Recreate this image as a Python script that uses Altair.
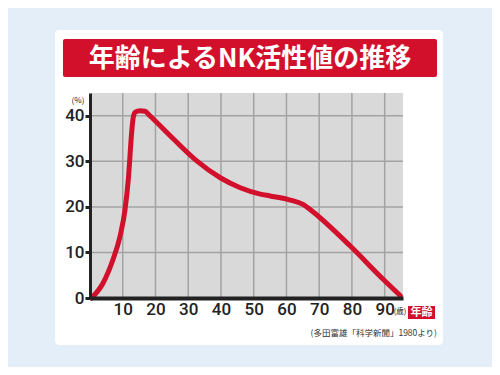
import altair as alt
import pandas as pd

# --- data ---
ages = [0.5, 4, 7, 9.2, 10.7, 11.7, 12.8, 13.2, 13.8, 15.3, 16.8, 18.3, 25.5,
        32.6, 39.8, 45.9, 52, 55, 61.2, 65.2, 67.8, 79.5, 89.7, 94.8]
nk_activity = [0, 3.3, 8.4, 13.6, 19.4, 26, 37, 39.6, 40.8, 41.1, 41, 40, 34.9,
               30.1, 26.4, 24.2, 22.8, 22.4, 21.5, 20.5, 19.1, 11.4, 4, 0.5]
x_ticks = [10, 20, 30, 40, 50, 60, 70, 80, 90]
y_ticks = [0, 10, 20, 30, 40]
title_text = "年齢によるNK活性値の推移"
source_text = "(多田富雄「科学新聞」1980より)"

W, H = 313, 205
RED = "#d3102c"
FONT = "Noto Sans CJK JP"

df = pd.DataFrame({"age": ages, "nk": nk_activity})
one = alt.Data(values=[{}])

xs = alt.Scale(domain=[0, 95.6], nice=False, zero=False)
ys = alt.Scale(domain=[0, 45], nice=False)

x_axis = alt.Axis(
    values=x_ticks, title=None, grid=False, ticks=False, labelPadding=3,
    labelOverlap=False, domainColor="#222", domainWidth=4,
    labelFont="Roboto", labelFontSize=17, labelFontWeight=500,
    labelColor="#222", zindex=1)
y_axis = alt.Axis(
    values=y_ticks, title=None, grid=False, ticks=True, tickSize=5,
    tickWidth=3, tickColor="#222", labelPadding=1, labelOverlap=False,
    domainColor="#222", domainWidth=3, labelFont="Roboto",
    labelFontSize=17, labelFontWeight=500, labelColor="#222", zindex=1)

panel = alt.Chart(one).mark_rect(color="white", cornerRadius=4).encode(
    x=alt.value(-35), x2=alt.value(353), y=alt.value(-63), y2=alt.value(252))

title_box = alt.Chart(one).mark_rect(color=RED, cornerRadius=2).encode(
    x=alt.value(-27), x2=alt.value(347), y=alt.value(-54), y2=alt.value(-16))
title_lbl = alt.Chart(one).mark_text(
    text=title_text, font=FONT, fontSize=26, fontWeight="bold", color="white",
    align="center", baseline="middle").encode(x=alt.value(160), y=alt.value(-34))

plot_bg = alt.Chart(one).mark_rect(color="#d9d9d9").encode(
    x=alt.value(0), x2=alt.value(W), y=alt.value(0), y2=alt.value(H))

vgrid = alt.Chart(pd.DataFrame({"v": x_ticks})).mark_rule(
    color="#a3a3a3", strokeWidth=1.5).encode(
    x=alt.X("v:Q", scale=xs, axis=x_axis))
hgrid = alt.Chart(pd.DataFrame({"v": y_ticks[1:]})).mark_rule(
    color="#a3a3a3", strokeWidth=1.5).encode(
    y=alt.Y("v:Q", scale=ys, axis=y_axis))

line = alt.Chart(df).mark_line(
    color=RED, strokeWidth=5, interpolate="monotone", strokeCap="round",
    strokeJoin="round").encode(
    x=alt.X("age:Q", scale=xs, axis=x_axis),
    y=alt.Y("nk:Q", scale=ys, axis=y_axis),
)

pct = alt.Chart(one).mark_text(text="(%)", font=FONT, fontSize=8, color="#222",
                                align="center", baseline="middle").encode(
    x=alt.value(-12), y=alt.value(8))
sai = alt.Chart(one).mark_text(text="(歳)", font=FONT, fontSize=7.5,
                                color="#222", align="center",
                                baseline="middle").encode(
    x=alt.value(310), y=alt.value(219))
age_box = alt.Chart(one).mark_rect(color=RED).encode(
    x=alt.value(318), x2=alt.value(345), y=alt.value(213), y2=alt.value(226))
age_lbl = alt.Chart(one).mark_text(text="年齢", font=FONT, fontSize=11,
                                    fontWeight="bold", color="white",
                                    align="center", baseline="middle").encode(
    x=alt.value(331.5), y=alt.value(219.5))
src = alt.Chart(one).mark_text(text=source_text, font=FONT, fontSize=8.5,
                                color="#333", align="right",
                                baseline="middle").encode(
    x=alt.value(347), y=alt.value(240))

chart = alt.layer(
    panel, title_box, title_lbl, plot_bg, vgrid, hgrid, line,
    pct, sai, age_box, age_lbl, src
).properties(
    width=W, height=H, autosize="none",
    padding={"left": 82, "top": 85, "right": 89, "bottom": 69},
    background="#e3eef9",
).configure_view(stroke=None)

chart.save("out.html", embed_options={"renderer": "svg", "actions": False})
